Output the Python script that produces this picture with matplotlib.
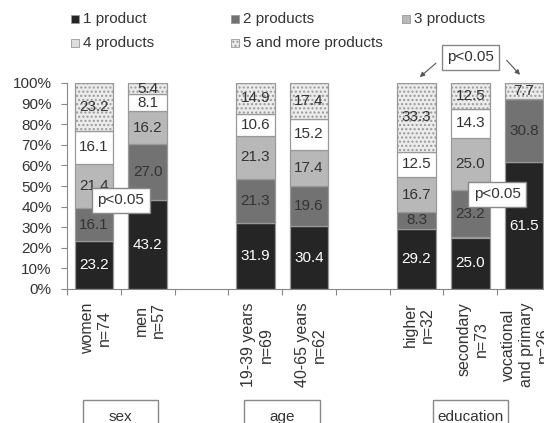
import matplotlib.pyplot as plt
from matplotlib.patches import Rectangle
from matplotlib.transforms import blended_transform_factory
import numpy as np

plt.rcParams['font.family'] = ['Liberation Sans', 'DejaVu Sans']
plt.rcParams['hatch.linewidth'] = 1.0

# data (percent of respondents)
groups = ['women\nn=74', 'men\nn=57', '19-39 years\nn=69', '40-65 years\nn=62',
          'higher\nn=32', 'secondary\nn=73', 'vocational\nand primary\nn=26']
slots = [0, 1, 3, 4, 6, 7, 8]
series = ['1 product', '2 products', '3 products', '4 products', '5 and more products']
p1 = [23.2, 43.2, 31.9, 30.4, 29.2, 25.0, 61.5]
p2 = [16.1, 27.0, 21.3, 19.6, 8.3, 23.2, 30.8]
p3 = [21.4, 16.2, 21.3, 17.4, 16.7, 25.0, 0.0]
p4 = [16.1, 8.1, 10.6, 15.2, 12.5, 14.3, 0.0]
p5 = [23.2, 5.4, 14.9, 17.4, 33.3, 12.5, 7.7]
group_names = ['sex', 'age', 'education']
group_centers = [0.5, 3.5, 7.0]

colors = ['#252525', '#727272', '#b8b8b8', '#ffffff', '#ececec']
hatches = [None, None, None, None, '....']
txt_colors = ['white', '#333333', '#333333', '#333333', '#333333']

fig = plt.figure(figsize=(5.44, 4.23), dpi=100)
W, H = 544, 423
ax = fig.add_axes([67 / W, (H - 289) / H, (551 - 67) / W, (289 - 83) / H])

x = np.array(slots, dtype=float)
bottom = np.zeros(len(x))
for vals, c, h, tc in zip([p1, p2, p3, p4, p5], colors, hatches, txt_colors):
    vals = np.array(vals)
    ax.bar(x, vals, 0.72, bottom=bottom, color=c, edgecolor='#999999',
           linewidth=0.9, hatch=h, zorder=2)
    for xi, b, v in zip(x, bottom, vals):
        if v > 0:
            ax.text(xi, b + v / 2, f'{v:.1f}', ha='center', va='center',
                    fontsize=11, color=tc, zorder=3)
    bottom += vals

ax.set_xlim(-0.5, 8.5)
ax.set_ylim(0, 100)
ax.set_yticks(np.arange(0, 101, 10))
ax.set_yticklabels([f'{v}%' for v in range(0, 101, 10)])
ax.set_xticks(np.arange(-0.5, 9, 1))
ax.set_xticklabels([])
ax.tick_params(axis='y', length=4, pad=7, labelsize=11, labelcolor='#333333', color='#888888')
ax.tick_params(axis='x', length=4, color='#888888')
for s in ['top', 'right']:
    ax.spines[s].set_visible(False)
for s in ['left', 'bottom']:
    ax.spines[s].set_color('#888888')

# category labels
for xi, g in zip(slots, groups):
    ax.text(xi + 0.04, -6.5, g, rotation=90, ha='center', va='top', multialignment='center',
            fontsize=11.5, color='#333333', clip_on=False)

# group boxes under the axis
tb = blended_transform_factory(ax.transData, fig.transFigure)
for gx, gn in zip(group_centers, group_names):
    ax.add_artist(Rectangle((gx - 0.7, -0.05), 1.4, (H - 400) / H + 0.05, transform=tb,
                            fill=False, edgecolor='#888888', linewidth=1.0, clip_on=False))
    ax.text(gx, (H - 417) / H, gn, transform=tb, ha='center', va='center',
            fontsize=11, color='#333333')

# significance marks
box = dict(boxstyle='square,pad=0.35', facecolor='white', edgecolor='#888888', linewidth=1)
ax.text(0.5, 43, 'p<0.05', ha='center', va='center', fontsize=11, color='#333333',
        bbox=box, zorder=5)
ax.text(7.5, 46, 'p<0.05', ha='center', va='center', fontsize=11, color='#333333',
        bbox=box, zorder=5)
ax.text(7.0, 112.5, 'p<0.05', ha='center', va='center', fontsize=11, color='#333333',
        bbox=box, zorder=5, clip_on=False)
arrow = dict(arrowstyle='-|>', color='#555555', lw=0.8, mutation_scale=7)
ax.annotate('', xy=(6.02, 102), xytext=(6.4, 110.5), arrowprops=arrow, annotation_clip=False)
ax.annotate('', xy=(7.96, 103), xytext=(7.64, 112), arrowprops=arrow, annotation_clip=False)

# legend drawn row by row
leg_pos = [(71, 19), (231, 19), (402, 19), (71, 43), (231, 43)]
for (px, py), lab, c, h in zip(leg_pos, series, colors, hatches):
    fig.add_artist(Rectangle((px / W, (H - py - 4) / H), 8 / W, 8 / H, transform=fig.transFigure,
                             facecolor=c if c != '#ffffff' else '#dddddd',
                             edgecolor='#999999', linewidth=0.6, hatch=h))
    fig.text((px + 12) / W, (H - py) / H, lab, ha='left', va='center',
             fontsize=11, color='#333333')

fig.savefig('out.png', dpi=100)
